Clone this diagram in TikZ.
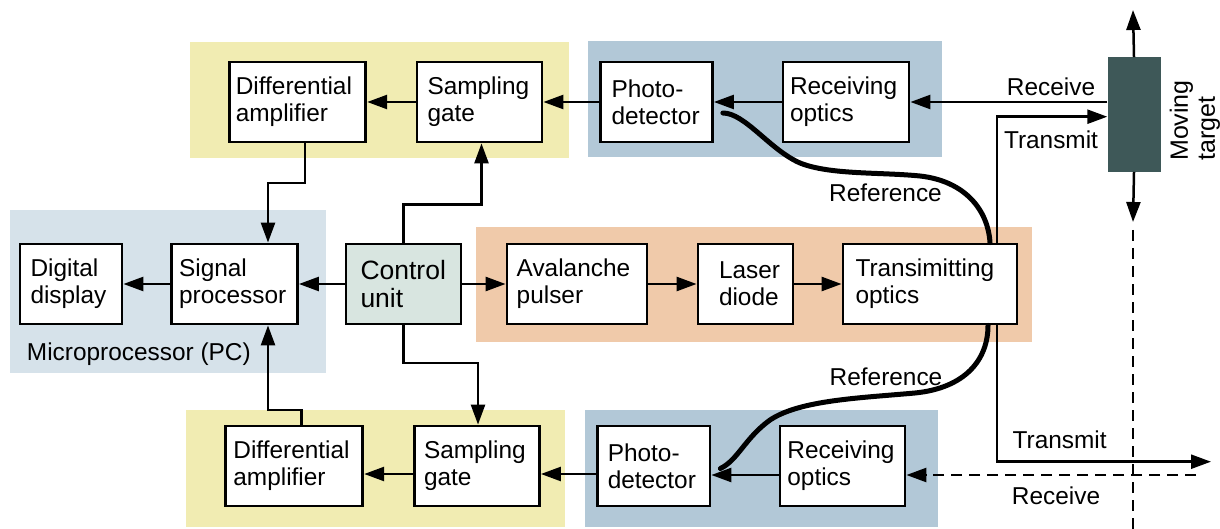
\documentclass[tikz,border=0pt]{standalone}
\usepackage{fontspec}
\setmainfont{Liberation Sans}
\usetikzlibrary{arrows.meta,calc}
\definecolor{cYel}{RGB}{241,236,178}
\definecolor{cBlue}{RGB}{178,200,215}
\definecolor{cMicro}{RGB}{214,226,234}
\definecolor{cOrange}{RGB}{240,202,170}
\definecolor{cCtrl}{RGB}{216,229,224}
\definecolor{cTarget}{RGB}{62,88,88}
\begin{document}
\begin{tikzpicture}[x=1pt,y=-1pt,
  blk/.style={draw=black, line width=2.8pt, fill=white, minimum height=80pt, align=left,
    inner ysep=0pt, font=\fontsize{24.4pt}{27pt}\selectfont},
  arr/.style={line width=2.5pt, -{Triangle[length=20pt,width=14pt]}},
  plain/.style={line width=2.2pt},
  dsh/.style={dash pattern=on 11pt off 7pt},
  refl/.style={line width=5pt, line cap=round},
  lbl/.style={inner sep=0pt, font=\fontsize{24.4pt}{27pt}\selectfont}]
\useasboundingbox (0,0) rectangle (1220,529);
% backgrounds
\fill[cYel] (190,42) rectangle (569,158);
\fill[cBlue] (588,41) rectangle (942,157);
\fill[cMicro] (10,210) rectangle (326,373);
\fill[cOrange] (476,227) rectangle (1032,342);
\fill[cYel] (186,410) rectangle (565,527);
\fill[cBlue] (585,410) rectangle (938,527);
% top row
\node[blk, text width=124pt, inner xsep=6pt] (dA1) at (297.8,102) {Differential\\amplifier};
\node[blk, text width=104pt, inner xsep=10.5pt] (sg1) at (479.5,102) {Sampling\\gate};
\node[blk, text width=90pt, inner xsep=11pt] (pd1) at (656.5,102) {Photo-\\detector};
\node[blk, text width=112pt, inner xsep=7pt] (ro1) at (846,102) {Receiving\\optics};
% middle row
\node[blk, text width=81pt, inner xsep=10.5pt] (dd) at (71,284) {Digital\\display};
\node[blk, text width=110.8pt, inner xsep=7.6pt] (sp) at (234.5,284) {Signal\\processor};
\node[blk, fill=cCtrl, text width=86pt, inner xsep=14.5pt, font=\fontsize{26.5pt}{28.5pt}\selectfont] (cu) at (403.5,284) {Control\\unit};
\node[blk, text width=120.6pt, inner xsep=9.7pt] (ap) at (577,284) {Avalanche\\pulser};
\node[blk, text width=53pt, inner xsep=21pt] (ld) at (745.5,284) {Laser\\diode};
\node[blk, text width=149pt, inner xsep=12.5pt] (to) at (930,284) {Transimitting\\optics};
% bottom row
\node[blk, text width=121.8pt, inner xsep=7.6pt] (dA2) at (294.3,466) {Differential\\amplifier};
\node[blk, text width=106pt, inner xsep=9.5pt] (sg2) at (477,466) {Sampling\\gate};
\node[blk, text width=91.9pt, inner xsep=10.3pt] (pd2) at (653.7,466) {Photo-\\detector};
\node[blk, text width=110.2pt, inner xsep=7.4pt] (ro2) at (842.5,466) {Receiving\\optics};
% moving target
\node[fill=cTarget, minimum width=53pt, minimum height=114.5pt, inner sep=0pt] (mt) at (1134,114.5) {};
\node[lbl, rotate=90, align=left, font=\fontsize{25pt}{27pt}\selectfont] (mtl) at (1195,120.5) {Moving\\target};
% labels
\node[lbl, anchor=base west] (mpc) at (26.8,360) {Microprocessor (PC)};
\node[lbl] (rcv1) at (1051,87) {Receive};
\node[lbl] (trn1) at (1051,140) {Transmit};
\node[lbl] (ref1) at (885.5,193) {Reference};
\node[lbl] (ref2) at (886,377) {Reference};
\node[lbl] (trn2) at (1059.6,440) {Transmit};
\node[lbl] (rcv2) at (1056,496) {Receive};
% free-end coordinates
\coordinate (upEnd) at (1133,10);
\coordinate (dnEnd) at (1133,222);
\coordinate (vd1) at (1133,230);
\coordinate (vd2) at (1133,529);
\coordinate (txEnd) at (1211,461.7);
\coordinate (rxStart) at (1196,475);
% top row connectors
\draw[arr] (sg1) -- (dA1);
\draw[arr] (pd1) -- (sg1);
\draw[arr] (ro1) -- (pd1);
\draw[arr] ([yshift=12.5pt]mt.west) -- (ro1.east);
\draw[arr] ([xshift=67pt]to.north) |- ([yshift=-2.2pt]mt.west);
\draw[arr] (mt.north) -- (upEnd);
\draw[arr] (mt.south) -- (dnEnd);
\draw[plain, dsh] (vd1) -- (vd2);
% middle row connectors
\draw[arr] (cu) -- (sp);
\draw[arr] (sp) -- (dd);
\draw[arr] (cu) -- (ap);
\draw[arr] (ap) -- (ld);
\draw[arr] (ld) -- (to);
% vertical connectors
\draw[arr] ([xshift=7pt]dA1.south) -- ++(0,39.7) -| ([xshift=33.5pt]sp.north);
\draw[arr] ([xshift=7pt]dA2.north) -- ++(0,-14.5) -| ([xshift=33.5pt]sp.south);
\draw[arr] (cu.north) -- ++(0,-38) -| ([xshift=2pt]sg1.south);
\draw[arr] (cu.south) -- ++(0,37.5) -| ([xshift=1pt]sg2.north);
% bottom row connectors
\draw[arr] ([yshift=-8pt]sg2.west) -- ([yshift=-8pt]dA2.east);
\draw[arr] ([yshift=-8pt]pd2.west) -- ([yshift=-8pt]sg2.east);
\draw[arr] ([yshift=-9pt]ro2.west) -- ([yshift=-9pt]pd2.east);
\draw[arr, dsh] (rxStart) -- ([yshift=-9pt]ro2.east);
\draw[arr] ([xshift=67pt]to.south) |- (txEnd);
% reference fibres
\draw[refl] ([xshift=9pt,yshift=-11pt]pd1.east) .. controls (745,113) and (770,150) .. (800,163)
  .. controls (830,175) and (880,172) .. (920,176)
  .. controls (965,181) and (988,210) .. ([xshift=60pt]to.north);
\draw[refl] ([xshift=58pt]to.south) .. controls (988,360) and (965,388) .. (915,393)
  .. controls (860,398) and (800,400) .. (770,420)
  .. controls (745,438) and (738,460) .. ([xshift=9pt,yshift=-2.5pt]pd2.east);
\end{tikzpicture}
\end{document}
